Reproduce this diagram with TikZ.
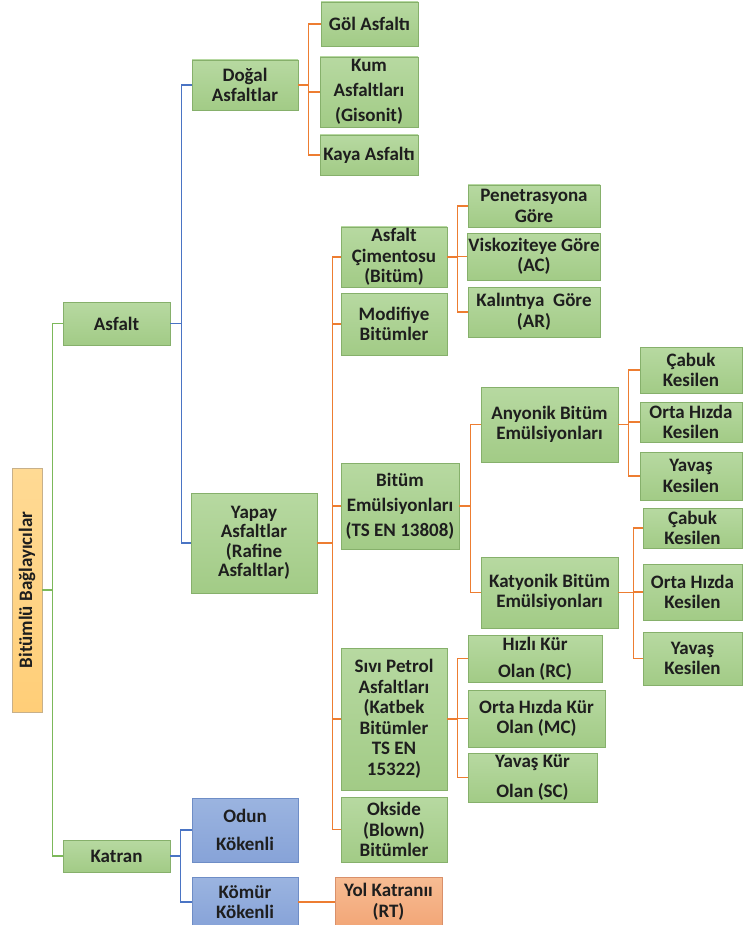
\documentclass[tikz,border=0pt]{standalone}
\usepackage{fontspec}
\setmainfont{Carlito}
\usepackage{graphicx}

\definecolor{txtdark}{HTML}{1E1E1E}
\definecolor{greentop}{HTML}{B7D9A1}
\definecolor{greenbot}{HTML}{A2CB86}
\definecolor{greenedge}{HTML}{86B06B}
\definecolor{bluetop}{HTML}{9BB4E0}
\definecolor{bluebot}{HTML}{87A3D8}
\definecolor{blueedge}{HTML}{6E8DC6}
\definecolor{orgtop}{HTML}{F7BC93}
\definecolor{orgbot}{HTML}{F2A677}
\definecolor{orgedge}{HTML}{D9906A}
\definecolor{roottop}{HTML}{FFDA94}
\definecolor{rootbot}{HTML}{FFCE78}
\definecolor{rootedge}{HTML}{C7B08A}
\definecolor{linegreen}{HTML}{7CB85A}
\definecolor{lineblue}{HTML}{4A74C4}
\definecolor{lineorange}{HTML}{ED7D31}

\begin{document}
\begin{tikzpicture}[x=1pt, y=-1pt,
	box/.style={draw, line width=0.6pt, align=center, inner sep=1pt, text=txtdark,
		font=\bfseries\fontsize{19}{20.5}\selectfont},
	gbox/.style={box, draw=greenedge, top color=greentop, bottom color=greenbot},
	bbox/.style={box, draw=blueedge, top color=bluetop, bottom color=bluebot},
	obox/.style={box, draw=orgedge, top color=orgtop, bottom color=orgbot},
	rootbox/.style={box, draw=rootedge, top color=roottop, bottom color=rootbot},
	loose/.style={font=\bfseries\fontsize{19}{#1}\selectfont},
	gline/.style={draw=linegreen, line width=1.1pt, to path={-- ++(#1,0) |- (\tikztotarget)}},
	bline/.style={draw=lineblue, line width=1.1pt, to path={-- ++(#1,0) |- (\tikztotarget)}},
	oline/.style={draw=lineorange, line width=1.1pt, to path={-- ++(#1,0) |- (\tikztotarget)}},
	gline/.default=10, bline/.default=10, oline/.default=10
	]
	\useasboundingbox (0,0) rectangle (742,925);
	% Level 0 and 1
	\node[rootbox, minimum width=30pt, minimum height=244pt] (root) at (27,590) {\rotatebox{90}{Bitümlü Bağlayıcılar}};
	\node[gbox, minimum width=107pt, minimum height=43pt] (asfalt) at (116.5,323.5) {Asfalt};
	\node[gbox, minimum width=107pt, minimum height=32pt] (katran) at (116.5,856) {Katran};
	% Level 2
	\node[gbox, minimum width=106pt, minimum height=50pt] (dogal) at (245,85) {Doğal\\Asfaltlar};
	\node[gbox, minimum width=126pt, minimum height=100pt, loose=19.5] (yapay) at (254,543) {Yapay\\Asfaltlar\\(Rafine\\Asfaltlar)};
	\node[bbox, minimum width=106pt, minimum height=64pt, loose=28] (odun) at (245,830) {Odun\\Kökenli};
	\node[bbox, minimum width=106pt, minimum height=50pt] (komur) at (245,902) {Kömür\\Kökenli};
	% Level 3
	\node[gbox, minimum width=97pt, minimum height=44pt] (gol) at (369.5,24) {Göl Asfaltı};
	\node[gbox, minimum width=98pt, minimum height=70pt, loose=25] (kum) at (369,92) {Kum\\Asfaltları\\(Gisonit)};
	\node[gbox, minimum width=98pt, minimum height=40pt] (kaya) at (369,155) {Kaya Asfaltı};
	\node[gbox, minimum width=106pt, minimum height=60pt] (cimento) at (394,257) {Asfalt\\Çimentosu\\(Bitüm)};
	\node[gbox, minimum width=106pt, minimum height=62pt] (modifiye) at (394,324) {Modifiye\\Bitümler};
	\node[gbox, minimum width=118pt, minimum height=86pt, loose=25] (bitem) at (400,506) {Bitüm\\Emülsiyonları\\(TS EN 13808)};
	\node[gbox, minimum width=106pt, minimum height=142pt] (sivi) at (394,719) {Sıvı Petrol\\Asfaltları\\(Katbek\\Bitümler\\TS EN\\15322)};
	\node[gbox, minimum width=106pt, minimum height=65pt] (okside) at (394,829.5) {Okside\\(Blown)\\Bitümler};
	\node[obox, minimum width=107pt, minimum height=50pt] (yol) at (388.5,902) {Yol Katranıı\\(RT)};
	% Level 4
	\node[gbox, minimum width=132pt, minimum height=42pt] (pen) at (534,206) {Penetrasyona\\Göre};
	\node[gbox, minimum width=132pt, minimum height=47pt] (visk) at (534,256.5) {Viskoziteye Göre\\(AC)};
	\node[gbox, minimum width=132pt, minimum height=50pt] (kal) at (534,312) {Kalıntıya\ \ Göre\\(AR)};
	\node[gbox, minimum width=137pt, minimum height=75pt] (any) at (549.5,424.5) {Anyonik Bitüm\\Emülsiyonları};
	\node[gbox, minimum width=137pt, minimum height=71pt] (kat) at (549.5,592.5) {Katyonik Bitüm\\Emülsiyonları};
	\node[gbox, minimum width=134pt, minimum height=47pt, loose=27] (hizli) at (535,658.5) {Hızlı Kür\\Olan (RC)};
	\node[gbox, minimum width=137pt, minimum height=57pt] (ortak) at (536.5,718.5) {Orta Hızda Kür\\Olan (MC)};
	\node[gbox, minimum width=129pt, minimum height=49pt, loose=30] (yavask) at (532.5,777.5) {Yavaş Kür\\Olan (SC)};
	% Level 5
	\node[gbox, minimum width=102pt, minimum height=46pt] (cabuk1) at (691,370) {Çabuk\\Kesilen};
	\node[gbox, minimum width=102pt, minimum height=40pt] (orta1) at (691,422) {Orta Hızda\\Kesilen};
	\node[gbox, minimum width=102pt, minimum height=48pt] (yavas1) at (691,476) {Yavaş\\Kesilen};
	\node[gbox, minimum width=99pt, minimum height=40pt] (cabuk2) at (692.5,528) {Çabuk\\Kesilen};
	\node[gbox, minimum width=99pt, minimum height=56pt] (orta2) at (692.5,592) {Orta Hızda\\Kesilen};
	\node[gbox, minimum width=99pt, minimum height=53pt] (yavas2) at (692.5,658.5) {Yavaş\\Kesilen};
	% Connectors
	\path
	(root.east) edge[gline] (asfalt.west)
	(root.east) edge[gline] (katran.west)
	(asfalt.east) edge[bline=11] (dogal.west)
	(asfalt.east) edge[bline=11] (yapay.west)
	(katran.east) edge[bline] (odun.west)
	(katran.east) edge[bline] (komur.west)
	(dogal.east) edge[oline] (gol.west)
	(dogal.east) edge[oline] (kum.west)
	(dogal.east) edge[oline] (kaya.west)
	(yapay.east) edge[oline=15] (cimento.west)
	(yapay.east) edge[oline=15] (modifiye.west)
	(yapay.east) edge[oline=15] (bitem.west)
	(yapay.east) edge[oline=15] (sivi.west)
	(yapay.east) edge[oline=15] (okside.west)
	(komur.east) edge[oline] (yol.west)
	(cimento.east) edge[oline] (pen.west)
	(cimento.east) edge[oline] (visk.west)
	(cimento.east) edge[oline] (kal.west)
	(bitem.east) edge[oline=11] (any.west)
	(bitem.east) edge[oline=11] (kat.west)
	(sivi.east) edge[oline] (hizli.west)
	(sivi.east) edge[oline] (ortak.west)
	(sivi.east) edge[oline] (yavask.west)
	(any.east) edge[oline] (cabuk1.west)
	(any.east) edge[oline] (orta1.west)
	(any.east) edge[oline] (yavas1.west)
	(kat.east) edge[oline=15] (cabuk2.west)
	(kat.east) edge[oline=15] (orta2.west)
	(kat.east) edge[oline=15] (yavas2.west);
\end{tikzpicture}
\end{document}
